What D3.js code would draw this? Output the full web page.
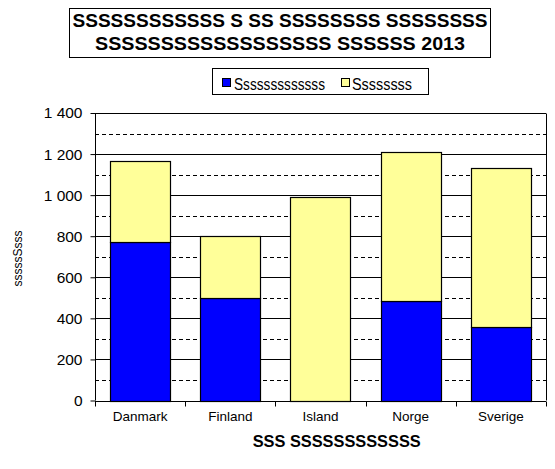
<!DOCTYPE html>
<html><head><meta charset="utf-8">
<script src="https://cdn.jsdelivr.net/npm/d3@7"></script>
<style>body{margin:0;background:#fff}svg{display:block}text{font-family:"Liberation Sans",Arial,sans-serif;fill:#000}</style>
</head><body>
<script>
const categories = ["Danmark","Finland","Island","Norge","Sverige"];
const seriesNames = ["Sssssssssssss","Ssssssss"];
const seriesBlue = [770, 500, 0, 483, 356];
const seriesYellow = [394, 300, 989, 725, 774];
const yTicks = [0,200,400,600,800,1000,1200,1400];
const yMinor = [100,300,500,700,900,1100,1300];
const titleLines = ["SSSSSSSSSSSS S SS SSSSSSSS SSSSSSSS","SSSSSSSSSSSSSSSSSS SSSSSS 2013"];
const xTitle = "SSS SSSSSSSSSSSS";
const yTitle = "sssssSsss";
const colors = ["#0000FF","#FFFF99"];

const W=555,H=469;
const svg=d3.select("body").append("svg").attr("width",W).attr("height",H);
const L=95,R=546,T=113,B=400.5;
const x=d3.scaleBand().domain(categories).range([L,R]).paddingInner(1/3).paddingOuter(1/6);
const y=d3.scaleLinear().domain([0,1400]).range([B,T]);
const fmt=v=>d3.format(",")(v).replace(/,/g,"\u00a0");

// gridlines
svg.append("g").selectAll("line").data(yTicks.slice(1)).join("line")
 .attr("x1",L).attr("x2",R).attr("y1",d=>Math.round(y(d))+0.5).attr("y2",d=>Math.round(y(d))+0.5)
 .attr("stroke","#000").attr("stroke-width",1);
svg.append("g").selectAll("line").data(yMinor).join("line")
 .attr("x1",L).attr("x2",R).attr("y1",d=>Math.round(y(d))+0.5).attr("y2",d=>Math.round(y(d))+0.5)
 .attr("stroke","#000").attr("stroke-width",1).attr("stroke-dasharray","4,3");
// right border
svg.append("line").attr("x1",R+0.5).attr("x2",R+0.5).attr("y1",Math.round(y(1400))+0.5).attr("y2",B).attr("stroke","#000");

// stacked bars
const data=categories.map((c,i)=>({cat:c,Sb:seriesBlue[i],Sy:seriesYellow[i]}));
const stack=d3.stack().keys(["Sb","Sy"])(data);
stack.forEach((s,k)=>{
  svg.append("g").selectAll("rect").data(s.filter(d=>d[1]-d[0]>0)).join("rect")
   .attr("x",d=>Math.round(x(d.data.cat))+0.5)
   .attr("width",Math.round(x.bandwidth()))
   .attr("y",d=>Math.round(y(d[1]))+0.5)
   .attr("height",d=>Math.round(y(d[0]))-Math.round(y(d[1])))
   .attr("fill",colors[k]).attr("stroke","#000").attr("stroke-width",1.2);
});

// y axis
const ya=svg.append("g").attr("transform",`translate(${L+0.5},0)`)
 .call(d3.axisLeft(y).tickValues(yTicks).tickFormat(fmt).tickSize(5).tickPadding(8));
ya.select(".domain").attr("stroke","#000").attr("d",`M-0,${T}V${B}`);
ya.selectAll("text").style("font-size","15.5px").attr("fill","#000");
ya.selectAll(".tick line").attr("stroke","#000");

// x axis
const xa=svg.append("g").attr("transform",`translate(0,${Math.round(B)+0.5})`);
xa.append("line").attr("x1",L).attr("x2",R).attr("stroke","#000");
const bounds=categories.map(c=>x(c)-x.step()*x.paddingInner()/2);
xa.selectAll("line.tk").data(bounds.concat([R])).join("line").attr("class","tk")
 .attr("x1",d=>Math.round(d)+0.5).attr("x2",d=>Math.round(d)+0.5).attr("y1",0).attr("y2",5).attr("stroke","#000");
xa.selectAll("text").data(categories).join("text")
 .attr("x",d=>x(d)+x.bandwidth()/2).attr("y",19).attr("text-anchor","middle")
 .style("font-size","13.5px").text(d=>d);

// axis titles
svg.append("text").attr("x",336.7).attr("y",447).attr("text-anchor","middle")
 .style("font-size","16px").style("font-weight","bold").attr("textLength",168).attr("lengthAdjust","spacingAndGlyphs").text(xTitle);
svg.append("text").attr("transform","translate(22,258.5) rotate(-90)").attr("text-anchor","middle")
 .style("font-size","12px").text(yTitle);

// title box
svg.append("rect").attr("x",69.5).attr("y",8.5).attr("width",421).attr("height",49).attr("fill","#fff").attr("stroke","#000");
const tl=[{t:titleLines[0],y:27,w:415},{t:titleLines[1],y:49.5,w:370}];
svg.selectAll("text.tt").data(tl).join("text").attr("class","tt")
 .attr("x",280).attr("y",d=>d.y).attr("text-anchor","middle")
 .style("font-size","18px").style("font-weight","bold")
 .attr("textLength",d=>d.w).attr("lengthAdjust","spacingAndGlyphs").text(d=>d.t);

// legend
svg.append("rect").attr("x",212.5).attr("y",68.5).attr("width",216).attr("height",26).attr("fill","#fff").attr("stroke","#000");
const lg=[{n:seriesNames[0],c:colors[0],sx:222.5,tx:234,w:91},{n:seriesNames[1],c:colors[1],sx:341.5,tx:352,w:60}];
const li=svg.selectAll("g.lg").data(lg).join("g").attr("class","lg");
li.append("rect").attr("x",d=>d.sx).attr("y",78.5).attr("width",8).attr("height",8).attr("fill",d=>d.c).attr("stroke","#000");
li.append("text").attr("x",d=>d.tx).attr("y",89.5).style("font-size","16px")
 .attr("textLength",d=>d.w).attr("lengthAdjust","spacingAndGlyphs").text(d=>d.n);
</script>
</body></html>
